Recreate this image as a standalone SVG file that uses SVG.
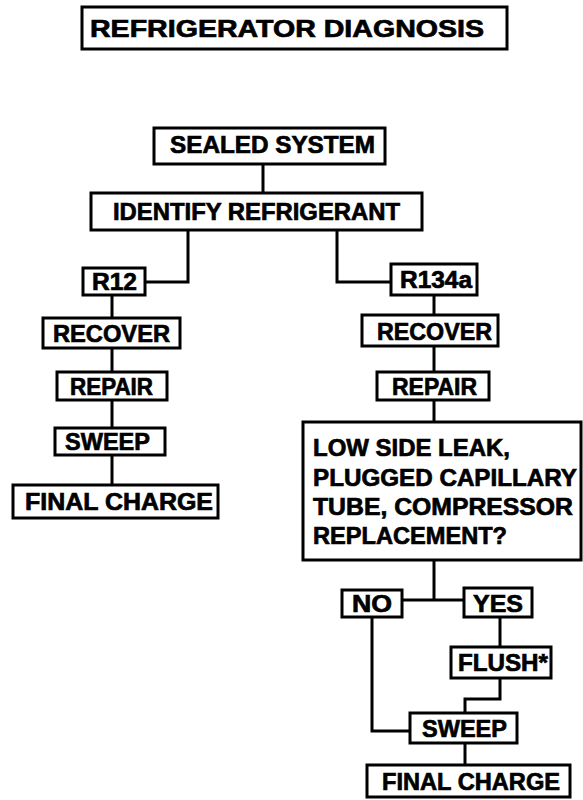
<svg xmlns="http://www.w3.org/2000/svg" width="583" height="800" viewBox="0 0 583 800">
<style>
rect.b{fill:#fff;stroke:#000;stroke-width:3}
text{font-family:"Liberation Sans",Arial,sans-serif;font-weight:bold;font-size:24px;fill:#000;stroke:#000;stroke-width:0.7}
.c{fill:none;stroke:#000;stroke-width:3}
</style>
<rect width="583" height="800" fill="#fff"/>
<g id="connectors" class="c">
<polyline points="263,164 263,193"/>
<polyline points="188,230 188,282 145,282"/>
<polyline points="337,230 337,282 391,282"/>
<polyline points="112,295 112,318"/>
<polyline points="112,348 112,372"/>
<polyline points="112,400 112,428"/>
<polyline points="112,455 112,485"/>
<polyline points="434,295 434,315"/>
<polyline points="434,346 434,372"/>
<polyline points="434,400 434,422"/>
<polyline points="434,560 434,600"/>
<polyline points="402,600 464,600"/>
<polyline points="372,617 372,731 410,731"/>
<polyline points="500,617 500,647"/>
<polyline points="500,678 500,699 465,699 465,713"/>
<polyline points="465,743 465,765"/>
</g>
<g id="title"><rect class="b" x="82" y="7" width="425" height="42"/><text x="90" y="37" font-size="28" textLength="394" lengthAdjust="spacingAndGlyphs">REFRIGERATOR DIAGNOSIS</text></g>
<g id="sealed"><rect class="b" x="154" y="128" width="231" height="36"/><text x="170" y="153" textLength="205" lengthAdjust="spacingAndGlyphs">SEALED SYSTEM</text></g>
<g id="identify"><rect class="b" x="91" y="193" width="331" height="37"/><text x="113" y="220" textLength="287" lengthAdjust="spacingAndGlyphs">IDENTIFY REFRIGERANT</text></g>
<g id="r12"><rect class="b" x="83" y="268" width="62" height="27"/><text x="92" y="290" textLength="45" lengthAdjust="spacingAndGlyphs">R12</text></g>
<g id="recover-l"><rect class="b" x="43" y="318" width="137" height="30"/><text x="53" y="342" textLength="117" lengthAdjust="spacingAndGlyphs">RECOVER</text></g>
<g id="repair-l"><rect class="b" x="57" y="372" width="110" height="28"/><text x="70" y="395" textLength="83" lengthAdjust="spacingAndGlyphs">REPAIR</text></g>
<g id="sweep-l"><rect class="b" x="55" y="428" width="110" height="27"/><text x="65" y="450" textLength="85" lengthAdjust="spacingAndGlyphs">SWEEP</text></g>
<g id="final-l"><rect class="b" x="13" y="485" width="205" height="33"/><text x="25" y="510" textLength="188" lengthAdjust="spacingAndGlyphs">FINAL CHARGE</text></g>
<g id="r134a"><rect class="b" x="391" y="264" width="86" height="31"/><text x="400" y="288" textLength="72" lengthAdjust="spacingAndGlyphs">R134a</text></g>
<g id="recover-r"><rect class="b" x="362" y="315" width="136" height="31"/><text x="377" y="340" textLength="115" lengthAdjust="spacingAndGlyphs">RECOVER</text></g>
<g id="repair-r"><rect class="b" x="377" y="372" width="112" height="28"/><text x="392" y="395" textLength="85" lengthAdjust="spacingAndGlyphs">REPAIR</text></g>
<g id="question"><rect class="b" x="303" y="422" width="278" height="138"/>
<text x="313" y="456" textLength="197" lengthAdjust="spacingAndGlyphs">LOW SIDE LEAK,</text>
<text x="313" y="486" textLength="264" lengthAdjust="spacingAndGlyphs">PLUGGED CAPILLARY</text>
<text x="313" y="515" textLength="260" lengthAdjust="spacingAndGlyphs">TUBE, COMPRESSOR</text>
<text x="313" y="544" textLength="194" lengthAdjust="spacingAndGlyphs">REPLACEMENT?</text></g>
<g id="no"><rect class="b" x="342" y="590" width="60" height="27"/><text x="352" y="612" textLength="40" lengthAdjust="spacingAndGlyphs">NO</text></g>
<g id="yes"><rect class="b" x="464" y="588" width="68" height="29"/><text x="473" y="612" textLength="50" lengthAdjust="spacingAndGlyphs">YES</text></g>
<g id="flush"><rect class="b" x="451" y="647" width="100" height="31"/><text x="458" y="671" textLength="90" lengthAdjust="spacingAndGlyphs">FLUSH*</text></g>
<g id="sweep-r"><rect class="b" x="410" y="713" width="107" height="30"/><text x="422" y="737" textLength="85" lengthAdjust="spacingAndGlyphs">SWEEP</text></g>
<g id="final-r"><rect class="b" x="367" y="765" width="203" height="32"/><text x="382" y="790" textLength="178" lengthAdjust="spacingAndGlyphs">FINAL CHARGE</text></g>
</svg>
